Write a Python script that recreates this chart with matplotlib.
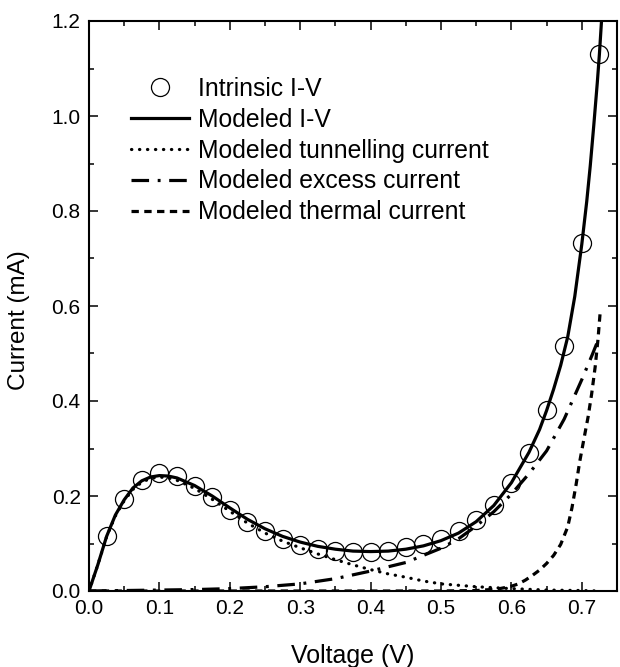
import matplotlib
matplotlib.use("Agg")
import matplotlib.pyplot as plt
from matplotlib.ticker import MultipleLocator

plt.rcParams['font.family'] = ['Liberation Sans', 'DejaVu Sans']

# Intrinsic I-V (measured points)
v_meas = [0.025, 0.05, 0.075, 0.1, 0.125, 0.15, 0.175, 0.2, 0.225, 0.25, 0.275,
          0.3, 0.325, 0.35, 0.375, 0.4, 0.425, 0.45, 0.475, 0.5, 0.525, 0.55,
          0.575, 0.6, 0.625, 0.65, 0.675, 0.7, 0.725]
i_meas = [0.116, 0.193, 0.234, 0.249, 0.242, 0.221, 0.197, 0.171, 0.146, 0.127, 0.109,
          0.097, 0.089, 0.085, 0.083, 0.083, 0.085, 0.092, 0.099, 0.110, 0.126, 0.149,
          0.182, 0.228, 0.291, 0.381, 0.516, 0.733, 1.130]

# Modeled I-V
v_model = [0, 0.0125, 0.025, 0.0375, 0.05, 0.0625, 0.075, 0.0875, 0.1, 0.1125, 0.125,
           0.15, 0.175, 0.2, 0.225, 0.25, 0.275, 0.3, 0.325, 0.35, 0.375, 0.4, 0.425,
           0.45, 0.475, 0.5, 0.525, 0.55, 0.575, 0.6, 0.625, 0.64, 0.65, 0.66, 0.67,
           0.68, 0.69, 0.7, 0.707, 0.712, 0.717, 0.722, 0.725, 0.728]
i_model = [0, 0.055, 0.115, 0.160, 0.192, 0.217, 0.232, 0.240, 0.243, 0.242, 0.238,
           0.222, 0.200, 0.175, 0.151, 0.131, 0.115, 0.103, 0.094, 0.088, 0.084, 0.083, 0.084,
           0.088, 0.095, 0.106, 0.122, 0.146, 0.180, 0.228, 0.292, 0.340, 0.380, 0.425, 0.475,
           0.535, 0.620, 0.730, 0.820, 0.895, 0.980, 1.070, 1.130, 1.200]

# Modeled tunnelling current
v_tun = [0, 0.0125, 0.025, 0.0375, 0.05, 0.0625, 0.075, 0.0875, 0.1, 0.1125, 0.125,
         0.15, 0.175, 0.2, 0.225, 0.25, 0.275, 0.3, 0.325, 0.35, 0.375, 0.4, 0.425,
         0.45, 0.475, 0.5, 0.55, 0.6, 0.65, 0.7, 0.725]
i_tun = [0, 0.055, 0.114, 0.158, 0.190, 0.214, 0.229, 0.237, 0.240, 0.238, 0.233,
         0.216, 0.193, 0.168, 0.143, 0.122, 0.105, 0.091, 0.078, 0.066, 0.055, 0.045, 0.036,
         0.029, 0.021, 0.015, 0.009, 0.005, 0.002, 0.001, 0.0]

# Modeled excess current
v_exc = [0, 0.05, 0.1, 0.15, 0.2, 0.25, 0.3, 0.35, 0.4, 0.45, 0.5, 0.525, 0.55,
         0.575, 0.6, 0.625, 0.65, 0.675, 0.7, 0.715, 0.725]
i_exc = [0, 0.001, 0.002, 0.003, 0.005, 0.009, 0.015, 0.026, 0.042, 0.060, 0.090, 0.110, 0.137,
         0.167, 0.204, 0.247, 0.295, 0.362, 0.445, 0.498, 0.535]

# Modeled thermal current
v_th = [0, 0.1, 0.2, 0.3, 0.4, 0.5, 0.55, 0.58, 0.59, 0.6, 0.61, 0.62, 0.63, 0.64,
        0.65, 0.66, 0.67, 0.68, 0.686, 0.692, 0.697, 0.703, 0.709, 0.714, 0.719, 0.723, 0.726]
i_th = [0, 0, 0, 0, 0, 0, 0.001, 0.004, 0.007, 0.010, 0.015, 0.023, 0.033, 0.044,
        0.058, 0.075, 0.098, 0.135, 0.175, 0.225, 0.272, 0.320, 0.367, 0.415, 0.472, 0.530, 0.585]

fig = plt.figure(figsize=(6.2, 6.67), dpi=100)
ax = fig.add_axes([89/620, 1-591/667, (617-89)/620, (591-21)/667])

lw = 2.3
ax.plot(v_meas, i_meas, linestyle='none', marker='o', markersize=13,
        markerfacecolor='none', markeredgecolor='black', markeredgewidth=0.9,
        label='Intrinsic I-V', zorder=3)
ax.plot(v_model, i_model, color='black', linewidth=lw, label='Modeled I-V', zorder=4)
ax.plot(v_tun, i_tun, color='black', linewidth=lw, linestyle=(0, (0.1, 2.4)),
        dash_capstyle='round', label='Modeled tunnelling current', zorder=4)
ax.plot(v_exc, i_exc, color='black', linewidth=lw, linestyle=(0, (5.5, 2.7, 0.9, 2.7)),
        label='Modeled excess current', zorder=4)
ax.plot(v_th, i_th, color='black', linewidth=lw, linestyle=(0, (2.3, 1.7)),
        label='Modeled thermal current', zorder=4)

ax.set_xlim(0, 0.75)
ax.set_ylim(0, 1.2)
ax.xaxis.set_minor_locator(MultipleLocator(0.05))
ax.yaxis.set_minor_locator(MultipleLocator(0.1))
ax.set_xticks([0, 0.1, 0.2, 0.3, 0.4, 0.5, 0.6, 0.7])
ax.set_xticklabels(['0.0', '0.1', '0.2', '0.3', '0.4', '0.5', '0.6', '0.7'])
ax.set_yticks([0, 0.2, 0.4, 0.6, 0.8, 1.0, 1.2])
ax.set_yticklabels(['0.0', '0.2', '0.4', '0.6', '0.8', '1.0', '1.2'])
ax.tick_params(which='both', direction='in', top=True, right=True, labelsize=15, width=1.1)
ax.tick_params(which='major', length=6.5, pad=6)
ax.tick_params(which='minor', length=3.5)
for s in ax.spines.values():
    s.set_linewidth(1.5)

ax.set_xlabel('Voltage (V)', fontsize=18)
ax.set_ylabel('Current (mA)', fontsize=17.5)
ax.xaxis.set_label_coords(0.5, -0.093)
ax.yaxis.set_label_coords(-0.112, 0.475)

leg = ax.legend(loc='upper left', bbox_to_anchor=(0.06, 0.919), frameon=False,
                fontsize=17.8, handlelength=2.35, handletextpad=0.36,
                labelspacing=0.275, borderaxespad=0)

fig.savefig('out.png', dpi=100)
